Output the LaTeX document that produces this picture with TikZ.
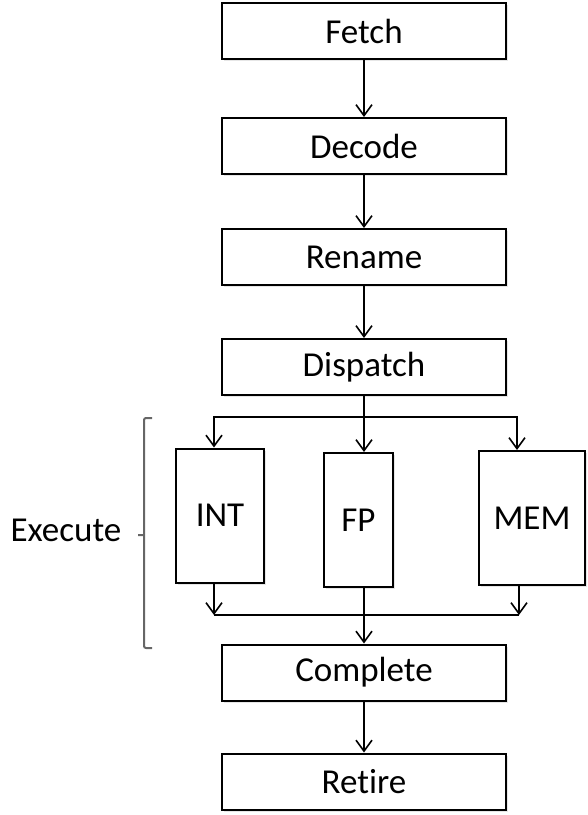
\documentclass[tikz,border=0pt]{standalone}
\usepackage{fontspec}
\setmainfont{Carlito}[Ligatures=NoCommon]
\usetikzlibrary{arrows.meta}
\usetikzlibrary{positioning}
\usetikzlibrary{shadows}

\begin{document}
\begin{tikzpicture}[->,>={Straight Barb[length=5.5pt,width=8pt]},line width=0.8pt,
  node distance=26pt,
  stage node/.style={rectangle,draw,line width=1pt,fill=white,minimum width=142pt,minimum height=28pt,
    font=\fontsize{17.5}{21}\selectfont,drop shadow={shadow xshift=1pt,shadow yshift=-1pt,opacity=0.2}},
  unit node/.style={rectangle,draw,line width=1pt,fill=white,minimum height=67pt,
    font=\fontsize{17.5}{21}\selectfont,drop shadow={shadow xshift=1pt,shadow yshift=-1pt,opacity=0.2}},
  legend node/.style={font=\fontsize{17.5}{21}\selectfont}]

  \useasboundingbox (0,0) rectangle (294pt,-407.5pt);

  \node[stage node] (fetch) at (182pt,-15.5pt) {Fetch};
  \node[stage node] (decode) [below = 28.5pt of fetch] {Decode};
  \node[stage node] (rename) [below = 26.5pt of decode] {Rename};
  \node[stage node] (dispatch) [below = 26pt of rename] {Dispatch};
  \node[unit node, minimum width=44pt] (int) at (110pt,-257.75pt) {INT};
  \node[unit node, minimum width=34.5pt] (fp) at (179.25pt,-260pt) {FP};
  \node[unit node, minimum width=53pt] (mem) at (266pt,-259pt) {MEM};
  \node[stage node] (complete) at (182pt,-336.25pt) {Complete};
  \node[stage node] (retire) [below = 25.5pt of complete] {Retire};
  \node[legend node] (exec) at (33pt,-265pt) {Execute};

  \coordinate (splitL) at (107pt,-208.5pt);
  \coordinate (splitR) at (258.5pt,-208.5pt);
  \coordinate (joinL) at (107pt,-307.5pt);
  \coordinate (joinR) at (259.5pt,-307.5pt);

  \path (fetch) edge (decode)
        (decode) edge (rename)
        (rename) edge (dispatch);

  % issue to the units
  \draw (splitR) -- (splitL) -- (int.north -| splitL);
  \draw (splitL) -- (splitR) -- (mem.north -| splitR);
  \draw (dispatch.south) -- (dispatch.south |- fp.north);

  % back from the units
  \draw (int.south -| joinL) -- (joinL);
  \draw (mem.south -| joinR) -- (joinR);
  \draw[-] (joinL) -- (joinR);
  \draw (complete.north |- fp.south) -- (complete.north);

  \path (complete) edge (retire);

  \draw[-,black!60,line width=1pt,rounded corners=1pt]
    (76pt,-209pt) -- (72pt,-209pt) -- (72pt,-324pt) -- (76pt,-324pt)
    (72pt,-267.5pt) -- (69pt,-267.5pt);

\end{tikzpicture}
\end{document}
